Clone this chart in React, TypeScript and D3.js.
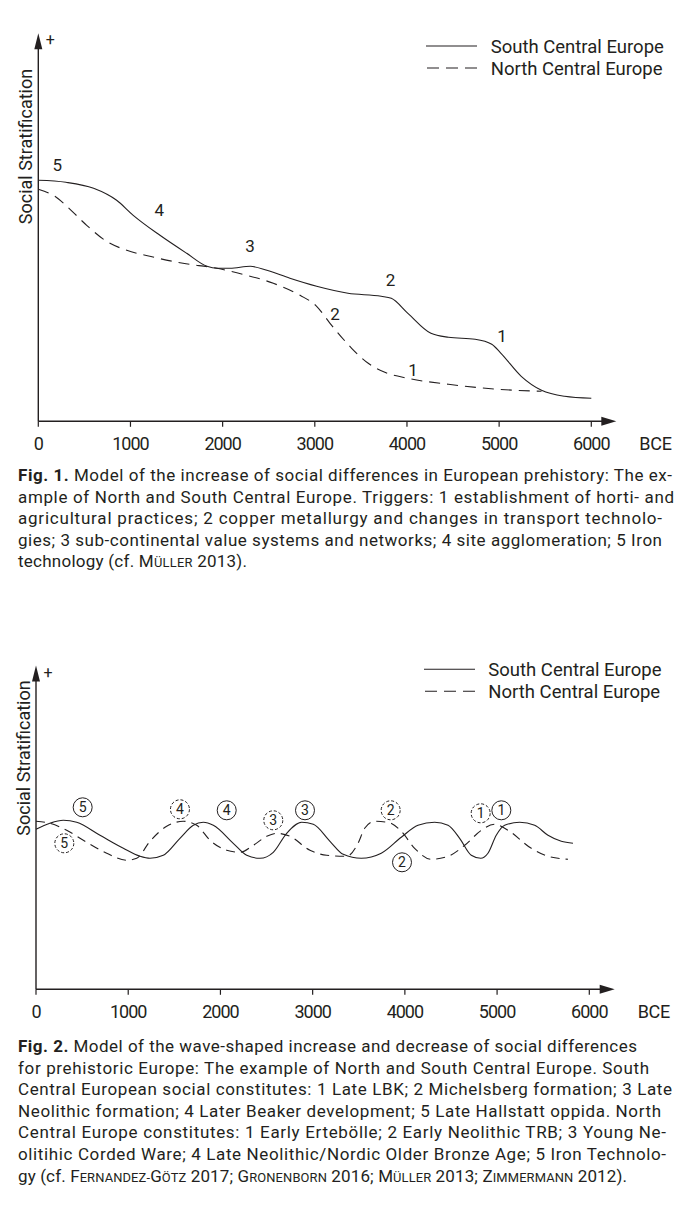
import React from 'react';
import * as d3 from 'd3';

// ---------- shared labels ----------
const xTickValues = [0, 1000, 2000, 3000, 4000, 5000, 6000];
const xUnitLabel = 'BCE';
const yAxisTitle = 'Social Stratification';
const yPlusLabel = '+';
const seriesNames = ['South Central Europe', 'North Central Europe'];

// ---------- Fig. 1 data (years BCE, stratification units) ----------
const fig1SouthYears = [0, 300, 600, 850, 1030, 1320, 1610, 1830, 1940, 2080, 2300, 2480, 2730, 3020, 3360, 3720, 3830, 4010, 4260, 4450, 4740, 4920, 5020, 5240, 5460, 5710, 6000];
const fig1SouthValues = [241, 239, 233, 221, 206, 186, 168, 155, 153, 153, 155, 151, 143, 135, 128, 125, 123, 108, 88, 84, 82, 77, 68, 45, 31, 25, 23];
const fig1NorthYears = [0, 180, 310, 525, 740, 960, 1210, 1570, 1940, 2220, 2550, 2840, 3020, 3165, 3330, 3400, 3580, 3760, 4010, 4450, 4990, 5460];
const fig1NorthValues = [232, 225, 215, 196, 180, 171, 165, 158, 153, 147, 138, 126, 115, 98, 80, 73, 58, 49, 43, 37, 32, 30];
const fig1LabelTexts = ['5', '4', '3', '2', '1', '2', '1'];
const fig1LabelYears = [206, 1313, 2297, 3823, 5031, 3219, 4065];
const fig1LabelValues = [256, 211, 175, 141, 85, 107, 51];

// ---------- Fig. 2 data ----------
const fig2SouthYears = [0, 150, 296, 441, 694, 947, 1128, 1236, 1380, 1561, 1706, 1814, 1923, 2139, 2285, 2429, 2573, 2718, 2881, 3007, 3188, 3332, 3527, 3744, 3961, 4142, 4323, 4468, 4594, 4720, 4822, 4901, 4991, 5082, 5245, 5408, 5552, 5696, 5823];
const fig2SouthValues = [160, 166, 169, 167, 154, 141, 133, 131, 134, 151, 164, 167, 164, 146, 134, 131, 137, 156, 167, 165, 148, 135, 131, 136, 152, 164, 167, 164, 151, 134, 131, 136, 154, 164, 167, 164, 154, 148, 146];
const fig2NorthYears = [0, 152, 333, 513, 767, 984, 1092, 1236, 1417, 1597, 1743, 1887, 2068, 2212, 2356, 2502, 2610, 2754, 2971, 3152, 3369, 3492, 3564, 3673, 3817, 3961, 4106, 4286, 4468, 4649, 4829, 4974, 5118, 5371, 5552, 5769];
const fig2NorthValues = [168, 166, 159, 149, 136, 129, 131, 148, 163, 168, 164, 149, 139, 137, 144, 153, 156, 153, 139, 134, 133, 146, 161, 168, 167, 158, 141, 130, 133, 144, 159, 165, 159, 141, 133, 130];
const fig2SouthMarkTexts = ['5', '4', '3', '2', '1'];
const fig2SouthMarkYears = [506, 2068, 2917, 3969, 5046];
const fig2SouthMarkValues = [182, 179, 179, 127, 179];
const fig2NorthMarkTexts = ['5', '4', '3', '2', '1'];
const fig2NorthMarkYears = [307, 1561, 2573, 3846, 4822];
const fig2NorthMarkValues = [146, 180, 169, 179, 176];

// ---------- captions ----------
type Seg = [string, string];
const caption1: Seg[][] = [
  [['Fig. 1.', 'b'], [' Model of the increase of social differences in European prehistory: The ex-', 'r']],
  [['ample of North and South Central Europe. Triggers: 1 establishment of horti- and', 'r']],
  [['agricultural practices; 2 copper metallurgy and changes in transport technolo-', 'r']],
  [['gies; 3 sub-continental value systems and networks; 4 site agglomeration; 5 Iron', 'r']],
  [['technology (cf. ', 'r'], ['MÜLLER', 'sc'], [' 2013).', 'r']],
];
const caption2: Seg[][] = [
  [['Fig. 2.', 'b'], [' Model of the wave-shaped increase and decrease of social differences', 'r']],
  [['for prehistoric Europe: The example of North and South Central Europe. South', 'r']],
  [['Central European social constitutes: 1 Late LBK; 2 Michelsberg formation; 3 Late', 'r']],
  [['Neolithic formation; 4 Later Beaker development; 5 Late Hallstatt oppida. North', 'r']],
  [['Central Europe constitutes: 1 Early Ertebölle; 2 Early Neolithic TRB; 3 Young Ne-', 'r']],
  [['olitihic Corded Ware; 4 Late Neolithic/Nordic Older Bronze Age; 5 Iron Technolo-', 'r']],
  [['gy (cf. ', 'r'], ['FERNANDEZ-GÖTZ', 'sc'], [' 2017; ', 'r'], ['GRONENBORN', 'sc'], [' 2016; ', 'r'], ['MÜLLER', 'sc'], [' 2013; ', 'r'], ['ZIMMERMANN', 'sc'], [' 2012).', 'r']],
];

const INK = '#231f20';
const FONT = 'Roboto, "Noto Sans", "DejaVu Sans", sans-serif';

function smallCaps(word: string, size: number, keyBase: string) {
  const out: JSX.Element[] = [];
  let buf = '';
  let bufBig: boolean | null = null;
  const flush = (k: number) => {
    if (buf) out.push(<tspan key={keyBase + k} fontSize={bufBig ? size : size * 0.76}>{buf}</tspan>);
    buf = '';
  };
  for (let i = 0; i < word.length; i++) {
    const big = i === 0 || word[i - 1] === '-' || word[i - 1] === ' ';
    if (bufBig !== null && big !== bufBig) flush(i);
    bufBig = big;
    buf += word[i];
  }
  flush(word.length);
  return out;
}

function Caption({ lines, x, y0, dy, ends }: { lines: Seg[][]; x: number; y0: number; dy: number; ends: number[] }) {
  const size = 17;
  return (
    <g fontFamily={FONT} fontSize={size} fill={INK}>
      {lines.map((segs, i) => (
        <text key={i} x={x} y={y0 + i * dy} textLength={ends[i] - x} lengthAdjust="spacing" style={{ whiteSpace: 'pre' }}>
          {segs.map(([t, kind], j) =>
            kind === 'b' ? (
              <tspan key={j} fontWeight={700}>{t}</tspan>
            ) : kind === 'sc' ? (
              <tspan key={j}>{smallCaps(t, size, `${i}-${j}-`)}</tspan>
            ) : (
              <tspan key={j}>{t}</tspan>
            )
          )}
        </text>
      ))}
    </g>
  );
}

type AxisCfg = { x0: number; x1: number; yAxis: number; yTop: number; arrowX: number; legendY: number; legendX: number; legendTextX: number; titleCY: number };

function Frame({ cfg, x, y }: { cfg: AxisCfg; x: d3.ScaleLinear<number, number>; y: d3.ScaleLinear<number, number> }) {
  const ax = x(0);
  const ay = y(0);
  return (
    <g>
      {/* axes */}
      <line x1={ax} y1={ay} x2={cfg.arrowX - 8} y2={ay} stroke={INK} strokeWidth={1.4} />
      <path d={`M${cfg.arrowX},${ay} L${cfg.arrowX - 15},${ay - 4.5} L${cfg.arrowX - 15},${ay + 4.5} Z`} fill={INK} />
      <line x1={ax} y1={ay} x2={ax} y2={cfg.yTop + 8} stroke={INK} strokeWidth={1.4} />
      <path d={`M${ax},${cfg.yTop} L${ax - 4},${cfg.yTop + 16} L${ax + 4},${cfg.yTop + 16} Z`} fill={INK} />
      <text x={ax + 12} y={cfg.yTop + 12} fontFamily={FONT} fontSize={16} textAnchor="middle" fill={INK}>{yPlusLabel}</text>
      {xTickValues.map((v) => (
        <g key={v}>
          <line x1={x(v)} x2={x(v)} y1={ay} y2={ay + 5.5} stroke={INK} strokeWidth={1.2} />
          <text x={x(v)} y={ay + 29} textAnchor="middle" fontFamily={FONT} fontSize={18} letterSpacing={-1} fill={INK}>{v}</text>
        </g>
      ))}
      <text x={cfg.arrowX + 23} y={ay + 29} fontFamily={FONT} fontSize={18} letterSpacing={-0.3} fill={INK}>{xUnitLabel}</text>
      <text transform={`translate(${ax - 13},${cfg.titleCY}) rotate(-90)`} textAnchor="middle" dominantBaseline="central" fontFamily={FONT} fontSize={18} fill={INK}>{yAxisTitle}</text>
      {/* legend */}
      <line x1={cfg.legendX} x2={cfg.legendX + 51} y1={cfg.legendY} y2={cfg.legendY} stroke={INK} strokeWidth={1.1} />
      <line x1={cfg.legendX + 1} x2={cfg.legendX + 51} y1={cfg.legendY + 22} y2={cfg.legendY + 22} stroke={INK} strokeWidth={1.1} strokeDasharray="12,7" />
      <text x={cfg.legendTextX} y={cfg.legendY + 6.7} fontFamily={FONT} fontSize={18.5} fill={INK}>{seriesNames[0]}</text>
      <text x={cfg.legendTextX} y={cfg.legendY + 28.7} fontFamily={FONT} fontSize={18.5} fill={INK}>{seriesNames[1]}</text>
    </g>
  );
}

export default function App() {
  // ---- Fig 1 ----
  const cfg1: AxisCfg = { x0: 38.3, x1: 591.3, yAxis: 421.3, yTop: 33.3, arrowX: 616.3, legendY: 46, legendX: 426, legendTextX: 490.7, titleCY: 146.5 };
  const x1 = d3.scaleLinear().domain([0, 6000]).range([cfg1.x0, cfg1.x1]);
  const y1 = d3.scaleLinear().domain([0, 388]).range([cfg1.yAxis, cfg1.yAxis - 388]);
  const line1 = d3.line<[number, number]>().x((d) => x1(d[0])).y((d) => y1(d[1])).curve(d3.curveMonotoneX);
  const south1 = line1(fig1SouthYears.map((yr, i) => [yr, fig1SouthValues[i]]) as [number, number][]) || '';
  const north1 = line1(fig1NorthYears.map((yr, i) => [yr, fig1NorthValues[i]]) as [number, number][]) || '';

  // ---- Fig 2 ----
  const cfg2: AxisCfg = { x0: 36, x1: 589.3, yAxis: 989.3, yTop: 665.5, arrowX: 614.7, legendY: 669.3, legendX: 424, legendTextX: 488.3, titleCY: 758 };
  const x2 = d3.scaleLinear().domain([0, 6000]).range([cfg2.x0, cfg2.x1]);
  const y2 = d3.scaleLinear().domain([0, 323]).range([cfg2.yAxis, cfg2.yAxis - 323]);
  const line2 = d3.line<[number, number]>().x((d) => x2(d[0])).y((d) => y2(d[1])).curve(d3.curveMonotoneX);
  const south2 = line2(fig2SouthYears.map((yr, i) => [yr, fig2SouthValues[i]]) as [number, number][]) || '';
  const north2 = line2(fig2NorthYears.map((yr, i) => [yr, fig2NorthValues[i]]) as [number, number][]) || '';

  return (
    <svg width={696} height={1212} viewBox="0 0 696 1212" style={{ position: 'absolute', left: 0, top: 0, background: '#fff' }}>
      <rect width={696} height={1212} fill="#fff" />
      {/* Fig 1 */}
      <Frame cfg={cfg1} x={x1} y={y1} />
      <path d={south1} fill="none" stroke={INK} strokeWidth={1.1} />
      <path d={north1} fill="none" stroke={INK} strokeWidth={1.1} strokeDasharray="11,7" />
      {fig1LabelTexts.map((t, i) => (
        <text key={i} x={x1(fig1LabelYears[i])} y={y1(fig1LabelValues[i]) + 6} textAnchor="middle" fontFamily={FONT} fontSize={17} fill={INK}>{t}</text>
      ))}
      <Caption lines={caption1} x={18} y0={481} dy={21.5} ends={[672, 674, 662, 662, 247]} />

      {/* Fig 2 */}
      <Frame cfg={cfg2} x={x2} y={y2} />
      <path d={south2} fill="none" stroke={INK} strokeWidth={1.1} />
      <path d={north2} fill="none" stroke={INK} strokeWidth={1.1} strokeDasharray="9,6" />
      {fig2SouthMarkTexts.map((t, i) => (
        <g key={'s' + i} transform={`translate(${x2(fig2SouthMarkYears[i])},${y2(fig2SouthMarkValues[i])})`}>
          <circle r={9.5} fill="#fff" stroke={INK} strokeWidth={1} />
          <text y={5} textAnchor="middle" fontFamily={FONT} fontSize={14} fill={INK}>{t}</text>
        </g>
      ))}
      {fig2NorthMarkTexts.map((t, i) => (
        <g key={'n' + i} transform={`translate(${x2(fig2NorthMarkYears[i])},${y2(fig2NorthMarkValues[i])})`}>
          <circle r={9.5} fill="#fff" stroke={INK} strokeWidth={1} strokeDasharray="3,2" />
          <text y={5} textAnchor="middle" fontFamily={FONT} fontSize={14} fill={INK}>{t}</text>
        </g>
      ))}
      <Caption lines={caption2} x={18} y0={1052} dy={21.6} ends={[637, 649, 672, 661, 666, 666, 627]} />
    </svg>
  );
}
